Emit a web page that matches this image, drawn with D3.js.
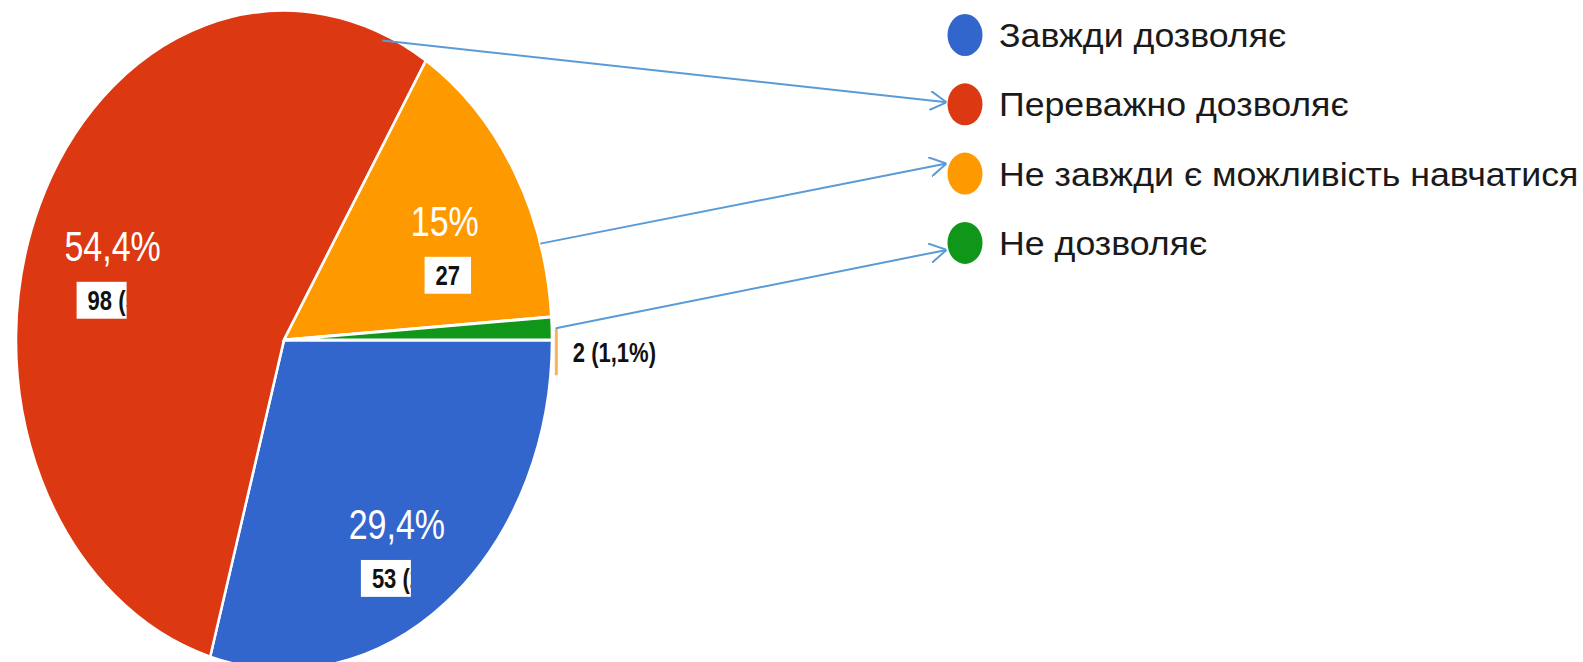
<!DOCTYPE html>
<html>
<head>
<meta charset="utf-8">
<script src="https://cdn.jsdelivr.net/npm/d3@7"></script>
<style>
  body { margin: 0; background: #fff; }
  svg { display: block; }
</style>
</head>
<body>
<svg id="chart"></svg>
<script>
// дані з діаграми
var categories = ["Завжди дозволяє", "Переважно дозволяє", "Не завжди є можливість навчатися", "Не дозволяє"];
var counts = [53, 98, 27, 2];
var colors = ["#3366cc", "#dc3912", "#ff9900", "#109618"];
// стрілки-анотації: кут на круговій (градуси), частка радіуса і зсув вістря від центру маркера легенди
var arrowAngles = [null, 22, 73, 88];
var arrowRadius = [null, 0.98, 1.0, 1.015];
var arrowTipDy = [0, -2, -10, 7];

var width = 1583, height = 662;
var cx = 284, cy = 340, r = 268, sy = 1.23;   // картинка розтягнута по вертикалі
var total = d3.sum(counts);

function pct(v) {
  return (Math.round(v / total * 1000) / 10).toString().replace(".", ",") + "%";
}

var svg = d3.select("#chart")
  .attr("width", width)
  .attr("height", height)
  .style("background", "#fff");

var pie = d3.pie().sort(null)
  .startAngle(Math.PI / 2)
  .endAngle(Math.PI / 2 + 2 * Math.PI);
var arcs = pie(counts);

var arc = d3.arc().innerRadius(0).outerRadius(r);
var labelArc = d3.arc().innerRadius(r * 0.7).outerRadius(r * 0.7);

var g = svg.append("g")
  .attr("transform", "translate(" + cx + "," + cy + ") scale(1," + sy + ")");

g.selectAll("path.slice")
  .data(arcs).enter()
  .append("path")
    .attr("class", "slice")
    .attr("d", arc)
    .style("fill", function(d, i) { return colors[i]; })
    .style("stroke", "#fff")
    .style("stroke-width", 2.5);

// підписи всередині секторів
var defs = svg.append("defs");
arcs.forEach(function(d, i) {
  var share = d.value / total;
  if (share < 0.05) return;
  var c = labelArc.centroid(d);
  g.append("text")
    .attr("x", c[0])
    .attr("y", c[1] + 12)
    .attr("text-anchor", "middle")
    .style("font-family", "'Liberation Sans', Arial, sans-serif")
    .style("font-size", "34px")
    .style("fill", "#fff")
    .text(pct(d.value));

  var full = share === Math.round(share * 100) / 100 ? String(d.value) : d.value + " (" + pct(d.value) + ")";
  var t = g.append("text")
    .style("font-family", "'Liberation Sans', Arial, sans-serif")
    .style("font-size", "22px")
    .style("font-weight", "bold")
    .style("fill", "#111")
    .text(full);
  var tw = t.node().getComputedTextLength();
  var bw = Math.min(tw + 22, 50);
  var bx = tw + 22 > 50 ? c[0] - 36 : c[0] - bw / 2 + 3;
  var by = c[1] + 29;
  defs.append("clipPath").attr("id", "clip" + i)
    .append("rect").attr("x", bx).attr("y", by).attr("width", bw).attr("height", 30);
  g.insert("rect", function() { return t.node(); })
    .attr("x", bx).attr("y", by)
    .attr("width", bw).attr("height", 30)
    .style("fill", "#fff");
  t.attr("x", bx + 11).attr("y", by + 23)
    .attr("clip-path", "url(#clip" + i + ")");
});

// малий сектор - підпис зовні
arcs.forEach(function(d, i) {
  if (d.value / total >= 0.05) return;
  var a = (d.startAngle + d.endAngle) / 2;
  var ox = Math.sin(a) * r, oy = -Math.cos(a) * r;
  g.append("rect")
    .attr("x", ox + 3).attr("y", oy)
    .attr("width", 3).attr("height", 38)
    .style("fill", "#f6a32c")
    .style("opacity", 0.8);
  g.append("text")
    .attr("x", ox + 21)
    .attr("y", oy + 27)
    .style("font-family", "'Liberation Sans', Arial, sans-serif")
    .style("font-size", "22px")
    .style("font-weight", "bold")
    .style("fill", "#111")
    .text(d.value + " (" + pct(d.value) + ")");
});

// легенда
var legX = 965, legY = 35, legStep = 69.3;
var legend = svg.append("g");
legend.selectAll("ellipse")
  .data(categories).enter()
  .append("ellipse")
    .attr("cx", legX)
    .attr("cy", function(d, i) { return legY + i * legStep; })
    .attr("rx", 17.5)
    .attr("ry", 21)
    .style("fill", function(d, i) { return colors[i]; });
legend.selectAll("text")
  .data(categories).enter()
  .append("text")
    .attr("transform", function(d, i) {
      return "translate(" + (legX + 34) + "," + (legY + i * legStep + 12) + ") scale(1.05,1)";
    })
    .style("font-family", "'Liberation Sans', Arial, sans-serif")
    .style("font-size", "34px")
    .style("fill", "#1a1a1a")
    .text(function(d) { return d; });

// стрілки
defs.append("marker")
  .attr("id", "arrow")
  .attr("viewBox", "0 0 12 14")
  .attr("refX", 12).attr("refY", 7)
  .attr("markerUnits", "userSpaceOnUse")
  .attr("markerWidth", 17).attr("markerHeight", 20)
  .attr("orient", "auto")
  .append("path")
    .attr("d", "M0,0 L12,7 L0,14")
    .style("fill", "none")
    .style("stroke", "#5b9bd5")
    .style("stroke-width", 1.4);

arrowAngles.forEach(function(deg, i) {
  if (deg === null) return;
  var a = deg * Math.PI / 180;
  var rr = r * arrowRadius[i];
  var x1 = cx + Math.sin(a) * rr;
  var y1 = cy - Math.cos(a) * rr * sy;
  var x2 = legX - 17.5 - 1;
  var y2 = legY + i * legStep + arrowTipDy[i];
  svg.append("line")
    .attr("x1", x1).attr("y1", y1)
    .attr("x2", x2).attr("y2", y2)
    .style("stroke", "#5b9bd5")
    .style("stroke-width", 2)
    .attr("marker-end", "url(#arrow)");
});
</script>
</body>
</html>
